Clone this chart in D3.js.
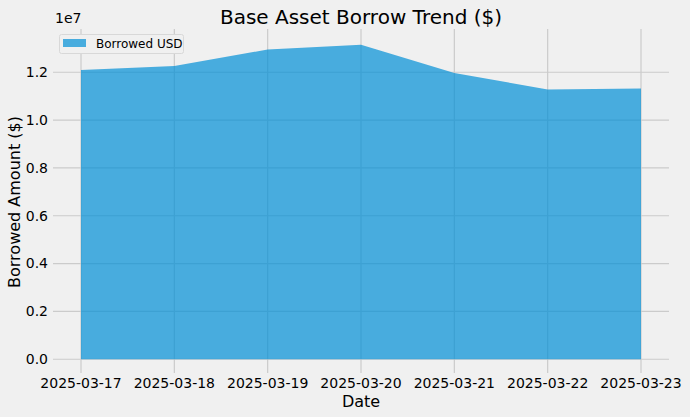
<!DOCTYPE html>
<html><head><meta charset="utf-8">
<script src="https://cdn.jsdelivr.net/npm/d3@7"></script>
<style>body{margin:0;background:#f0f0f0;}svg{display:block;font-family:"DejaVu Sans",sans-serif;}</style>
</head><body>
<script>
const dates = ["2025-03-17","2025-03-18","2025-03-19","2025-03-20","2025-03-21","2025-03-22","2025-03-23"];
const borrowed = [12090000, 12260000, 12950000, 13150000, 11970000, 11280000, 11320000];
const yTicks = [0, 2e6, 4e6, 6e6, 8e6, 10e6, 12e6];
const seriesName = "Borrowed USD";

const W = 690, H = 417;
const m = {left: 53, right: 21, top: 29, bottom: 42};
const svg = d3.select("body").append("svg").attr("width", W).attr("height", H);
svg.append("rect").attr("width", W).attr("height", H).attr("fill", "#f0f0f0");

const parse = d3.utcParse("%Y-%m-%d");
const xd = dates.map(parse);
const x0 = xd[0], x1 = xd[xd.length-1];
const span = x1 - x0;
const x = d3.scaleUtc().domain([new Date(+x0 - span*0.05), new Date(+x1 + span*0.05)]).range([m.left, W - m.right]);
const ymax = d3.max(borrowed);
const y = d3.scaleLinear().domain([-ymax*0.05, ymax*1.05]).range([H - m.bottom, m.top]);

const g = svg.append("g");
g.selectAll(".hg").data(yTicks).join("line")
  .attr("x1", m.left).attr("x2", W - m.right)
  .attr("y1", d => y(d)).attr("y2", d => y(d))
  .attr("stroke", "#cbcbcb").attr("stroke-width", 1.2);
g.selectAll(".vg").data(xd).join("line")
  .attr("x1", d => x(d)).attr("x2", d => x(d))
  .attr("y1", m.top).attr("y2", H - m.bottom - 2)
  .attr("stroke", "#cbcbcb").attr("stroke-width", 1.2);

const area = d3.area().x((d,i) => x(xd[i])).y0(y(0)).y1(d => y(d));
g.append("path").datum(borrowed).attr("d", area).attr("fill", "#008fd5").attr("fill-opacity", 0.7);

g.selectAll(".yl").data(yTicks).join("text")
  .attr("x", m.left - 5).attr("y", d => y(d)).attr("dy", "0.35em")
  .attr("text-anchor", "end").attr("font-size", 14).attr("fill", "#000")
  .text(d => d3.format(".1f")(d/1e7));
const fmt = d3.utcFormat("%Y-%m-%d");
g.selectAll(".xl").data(xd).join("text")
  .attr("x", d => x(d)).attr("y", 383).attr("dy", "0.35em")
  .attr("text-anchor", "middle").attr("font-size", 14).attr("fill", "#000")
  .text(d => fmt(d));

svg.append("text").attr("x", m.left + 2).attr("y", 23).attr("font-size", 14).text("1e7");
svg.append("text").attr("x", (m.left + W - m.right)/2).attr("y", 24).attr("text-anchor", "middle")
  .attr("font-size", 20).text("Base Asset Borrow Trend ($)");
svg.append("text").attr("x", (m.left + W - m.right)/2).attr("y", 407).attr("text-anchor", "middle")
  .attr("font-size", 16).text("Date");
svg.append("text").attr("transform", `translate(20,${(m.top + H - m.bottom)/2}) rotate(-90)`)
  .attr("text-anchor", "middle").attr("font-size", 16).text("Borrowed Amount ($)");

const lg = svg.append("g");
lg.append("rect").attr("x", 59.5).attr("y", 34.5).attr("width", 124).attr("height", 19).attr("rx", 2)
  .attr("fill", "#f0f0f0").attr("stroke", "#d8d8d8");
lg.append("rect").attr("x", 63).attr("y", 39).attr("width", 23).attr("height", 8)
  .attr("fill", "#008fd5").attr("fill-opacity", 0.7);
lg.append("text").attr("x", 96).attr("y", 44).attr("dy", "0.35em").attr("font-size", 12).text(seriesName);
</script>
</body></html>
